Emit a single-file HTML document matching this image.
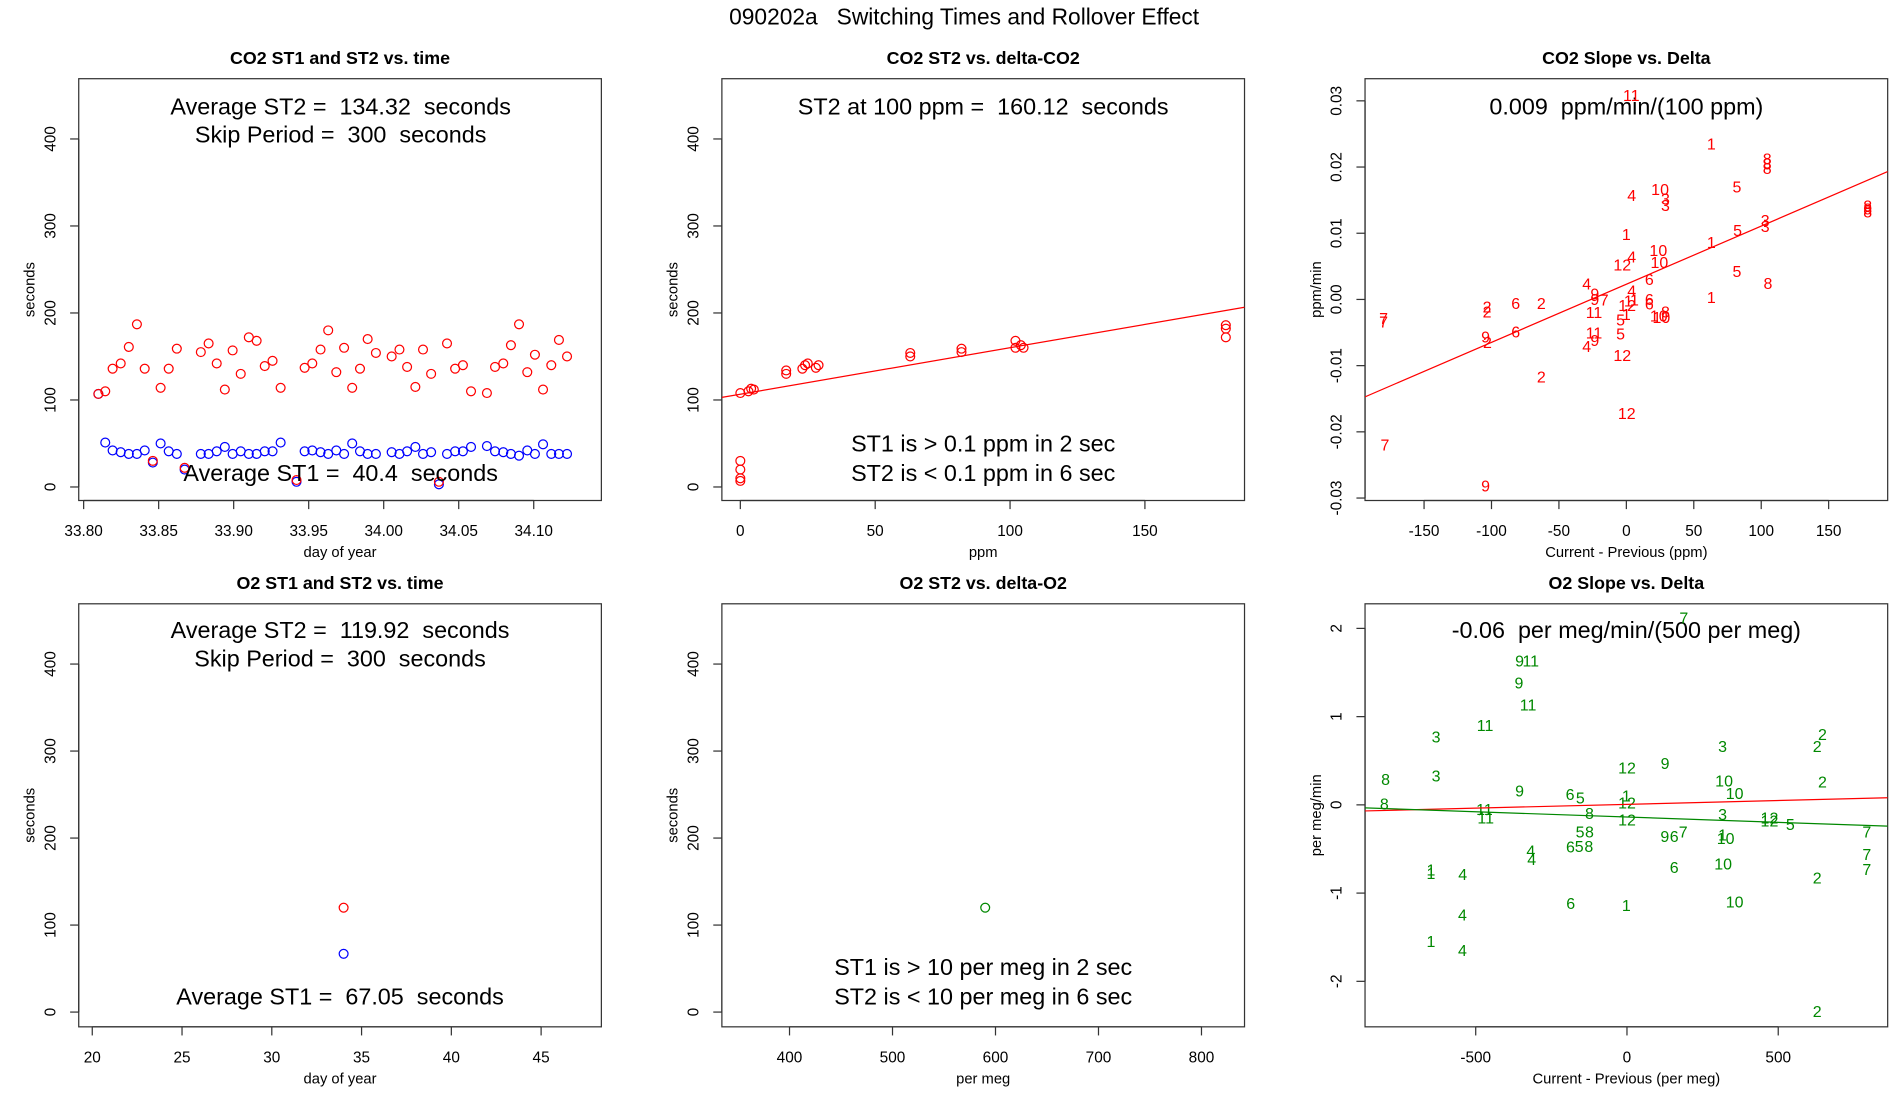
<!DOCTYPE html>
<html><head><meta charset="utf-8"><style>
html,body{margin:0;padding:0;background:#fff;}
svg{display:block;font-family:"Liberation Sans",sans-serif;}
svg text{white-space:pre;}
</style></head><body>
<svg id="fig" width="1900" height="1100" viewBox="0 0 1545 894.5" xmlns="http://www.w3.org/2000/svg" xml:space="preserve">
<rect width="1545" height="894.5" fill="#fff"/>
<text x="784" y="20" font-size="18.5" text-anchor="middle">090202a   Switching Times and Rollover Effect</text>
</svg>
<script>
// ---------- data ----------
const co2Days = [33.8098,33.8144,33.8193,33.8247,33.8301,33.8355,33.8407,33.8461,33.8513,33.8567,33.8621,33.8673,33.8781,33.8833,33.8887,33.8941,33.8993,33.9047,33.9101,33.9153,33.9207,33.9259,33.9313,33.9419,33.9473,33.9524,33.9579,33.9630,33.9684,33.9736,33.9790,33.9842,33.9893,33.9948,34.0053,34.0105,34.0156,34.0211,34.0262,34.0316,34.0368,34.0422,34.0476,34.0528,34.0582,34.0688,34.0742,34.0797,34.0848,34.0902,34.0957,34.1008,34.1062,34.1117,34.1168,34.1222];
const co2ST2 = [107,110,136,142,161,187,136,30,114,136,159,22,155,165,142,112,157,130,172,168,139,145,114,8,137,142,158,180,132,160,114,136,170,154,150,158,138,115,158,130,6,165,136,140,110,108,138,142,163,187,132,152,112,140,169,150];
const co2ST1 = [107,51,42,40,38,38,42,28,50,41,38,20,38,38,41,46,38,41,38,38,41,41,51,6,41,42,40,38,42,38,50,41,38,38,40,38,41,46,38,40,3,38,41,41,46,47,41,40,38,36,42,38,49,38,38,38];
const deltaCO2 = [0,0,0,0,0,3,4,5,17,17,23,24,25,28,29,63,63,82,82,102,102,104,105,180,180,180];
const st2CO2 = [108,30,20,10,7,110,113,112,130,134,136,140,142,137,140,150,154,155,159,160,168,163,160,172,182,186];
const co2FitIntercept = 106.6, co2FitSlope = 0.535;
const slopeX = [3.7,63,104.4,104.4,104.4,82,25,4,29,29,179,179,179,0,103,103,82.5,63,23.7,4,24.5,-3,82,17,105,-29.4,4,63,-23.4,-23.4,-16.4,-82,-63,1.5,6,17,17,0.6,-103.3,-103.3,-24,29,24,26,-180,-180,0,-4.3,-104.4,-103,-82,-24,-23.4,-4.3,-29.4,-3,-63,0.3,-179,-104.4];
const slopeY = [0.0308,0.0235,0.0212,0.0205,0.0198,0.0170,0.0166,0.0157,0.0152,0.0142,0.0141,0.0137,0.0132,0.0098,0.0119,0.0110,0.0104,0.0086,0.0074,0.0064,0.0056,0.0052,0.0042,0.0030,0.0024,0.0023,0.0013,0.0003,0.0008,0,-0.0001,-0.0006,-0.0006,-0.0002,-0.0001,0,-0.0007,-0.0009,-0.0011,-0.0019,-0.0020,-0.0019,-0.0025,-0.0027,-0.0029,-0.0034,-0.0023,-0.0031,-0.0057,-0.0065,-0.0049,-0.0051,-0.0062,-0.0052,-0.0071,-0.0085,-0.0117,-0.0172,-0.0220,-0.0282];
const slopeLab = ["11","1","8","8","8","5","10","4","3","3","8","8","8","1","3","3","5","1","10","4","10","12","5","6","8","4","4","1","9","9","7","6","2","1","1","6","6","12","2","2","11","8","10","10","7","7","1","5","9","2","6","11","9","5","4","12","2","12","7","9"];
const slopeFitIntercept = 0.0023, slopeFitSlope = 0.0000878;
const o2Day = [34], o2ST2 = [120], o2ST1 = [67];
const deltaO2 = [590], st2O2 = [120];
const o2X = [188,-355,-318,-357,-327,-469,-631,316,646,629,0,126,-798,-631,321,646,-355,-188,-154,356,-2,0,-802,-471,-467,-124,0,316,471,471,540,-155,-124,125,156,186,316,326,793,-318,-315,-187,-158,-126,793,318,156,-648,-648,-543,793,629,356,-186,-2,-544,-648,-544,629];
const o2Y = [2.12,1.63,1.63,1.38,1.13,0.90,0.77,0.66,0.80,0.66,0.42,0.47,0.29,0.33,0.27,0.26,0.16,0.12,0.08,0.13,0.10,0.02,0.01,-0.05,-0.15,-0.10,-0.17,-0.11,-0.15,-0.18,-0.22,-0.31,-0.31,-0.36,-0.36,-0.31,-0.34,-0.38,-0.31,-0.52,-0.62,-0.48,-0.47,-0.47,-0.56,-0.67,-0.71,-0.74,-0.78,-0.79,-0.73,-0.83,-1.10,-1.12,-1.14,-1.25,-1.55,-1.65,-2.34];
const o2Lab = ["7","9","11","9","11","11","3","3","2","2","12","9","8","3","10","2","9","6","5","10","1","12","8","11","11","8","12","3","12","12","5","5","8","9","6","7","1","10","7","4","4","6","5","8","7","10","6","1","1","4","7","2","10","6","1","4","1","4","2"];
const o2RedIntercept = 0.006, o2RedSlope = 0.0000864;
const o2GreenIntercept = -0.138, o2GreenSlope = -0.00012;

// ---------- helpers ----------
const NS = "http://www.w3.org/2000/svg";
const fig = document.getElementById('fig');
function mk(tag, attrs, parent, txt){
  const e = document.createElementNS(NS, tag);
  for (const k in attrs) e.setAttribute(k, attrs[k]);
  if (txt !== undefined) e.textContent = txt;
  (parent || fig).appendChild(e);
  return e;
}
function lin(d0,d1,p0,p1){ return v => p0 + (v-d0)*(p1-p0)/(d1-d0); }
function fmt(v,dec){ return v.toFixed(dec); }

function panel(o){
  const g = mk('g', {});
  
  
  const box = mk('rect', {x:o.L, y:o.T, width:o.R-o.L, height:o.B-o.T, fill:'none', stroke:'#333', 'stroke-width':1}, g);
  
  
  const t = mk('text', {x:(o.L+o.R)/2, y:o.T-12, 'font-size':14.5, 'font-weight':'bold', 'text-anchor':'middle'}, g, o.title);
  
  
  const xa = mk('g', {}, g);
  
  
  const xs = o.xticks.map(o.sx);
  mk('line', {x1:xs[0], x2:xs[xs.length-1], y1:o.B, y2:o.B, stroke:'#333'}, xa);
  o.xticks.forEach((v,i)=>{
    mk('line', {x1:xs[i], x2:xs[i], y1:o.B, y2:o.B+7, stroke:'#333'}, xa);
    const tl = mk('text', {x:xs[i], y:o.B+29, 'font-size':12.5, 'text-anchor':'middle'}, xa, fmt(v,o.xdec));
    
    
  });
  const xt = mk('text', {x:(o.L+o.R)/2, y:o.B+46, 'font-size':12, 'text-anchor':'middle'}, g, o.xlab);
  
  
  const ya = mk('g', {}, g);
  
  
  const ys = o.yticks.map(o.sy);
  mk('line', {x1:o.L, x2:o.L, y1:ys[0], y2:ys[ys.length-1], stroke:'#333'}, ya);
  o.yticks.forEach((v,i)=>{
    mk('line', {x1:o.L-7, x2:o.L, y1:ys[i], y2:ys[i], stroke:'#333'}, ya);
    const tl = mk('text', {x:0, y:0, 'font-size':12.5, 'text-anchor':'middle', transform:`translate(${o.L-19},${ys[i]}) rotate(-90)`}, ya, fmt(v,o.ydec));
    
    
  });
  const yt = mk('text', {x:0, y:0, 'font-size':12, 'text-anchor':'middle', transform:`translate(${o.L-36},${(o.T+o.B)/2}) rotate(-90)`}, g, o.ylab);
  
  
  (o.notes||[]).forEach(n=>{
    const a = mk('text', {x:(o.L+o.R)/2, y:n[1]+7, 'font-size':19, 'text-anchor':'middle'}, g, n[0]);
    
    
  });
  return g;
}
function circles(g, xs, ys, sx, sy, col, name){
  xs.forEach((v,i)=>{
    const c = mk('circle', {cx:sx(v), cy:sy(ys[i]), r:3.6, fill:'none', stroke:col, 'stroke-width':1}, g);
    
    
  });
}
function labels(g, xs, ys, labs, sx, sy, col){
  xs.forEach((v,i)=>{
    const t = mk('text', {x:sx(v), y:sy(ys[i])+4.5, 'font-size':13, 'text-anchor':'middle', fill:col}, g, labs[i]);
    
    
  });
}
function fitline(g, L, R, sx, sy, a, b, col, T, B){
  const x0 = (L-sx(0))/(sx(1)-sx(0)), x1 = (R-sx(0))/(sx(1)-sx(0));
  const cp = 'clip'+Math.round(L)+'_'+Math.round(T)+col.replace('#','');
  const cl = mk('clipPath', {id:cp}, g);
  mk('rect', {x:L, y:T, width:R-L, height:B-T}, cl);
  const l = mk('line', {x1:L, x2:R, y1:sy(a+b*x0), y2:sy(a+b*x1), stroke:col, 'stroke-width':1, 'clip-path':`url(#${cp})`}, g);
  
  
}

// ---------- panel 1 ----------
{
  const sx = lin(33.80,34.10,68,434), sy = lin(0,400,396,113);
  const g = panel({name:'co2-st-vs-time-panel', L:64, R:489, T:64, B:407, sx, sy, title:'CO2 ST1 and ST2 vs. time',
    xticks:[33.80,33.85,33.90,33.95,34.00,34.05,34.10], xdec:2, yticks:[0,100,200,300,400], ydec:0,
    xlab:'day of year', ylab:'seconds', notes:[]});
  circles(g, co2Days, co2ST1, sx, sy, '#00f', 'st1-point');
  circles(g, co2Days, co2ST2, sx, sy, '#f00', 'st2-point');
  [['Average ST2 =  134.32  seconds',86],['Skip Period =  300  seconds',109],['Average ST1 =  40.4  seconds',384]].forEach(n=>{
    const a = mk('text', {x:277, y:n[1]+7, 'font-size':19, 'text-anchor':'middle'}, g, n[0]);
    
    
  });
}
// ---------- panel 2 ----------
{
  const sx = lin(0,150,602,931), sy = lin(0,400,396,113);
  const g = panel({name:'co2-st2-vs-delta-panel', L:587, R:1012, T:64, B:407, sx, sy, title:'CO2 ST2 vs. delta-CO2',
    xticks:[0,50,100,150], xdec:0, yticks:[0,100,200,300,400], ydec:0, xlab:'ppm', ylab:'seconds',
    notes:[['ST2 at 100 ppm =  160.12  seconds',86],['ST1 is > 0.1 ppm in 2 sec',360],['ST2 is < 0.1 ppm in 6 sec',384]]});
  circles(g, deltaCO2, st2CO2, sx, sy, '#f00', 'st2-point');
  fitline(g, 587, 1012, sx, sy, co2FitIntercept, co2FitSlope, '#f00', 64, 407);
}
// ---------- panel 3 ----------
{
  const sx = lin(-150,150,1158,1487), sy = lin(-0.03,0.03,405,82);
  const g = panel({name:'co2-slope-vs-delta-panel', L:1110, R:1535, T:64, B:407, sx, sy, title:'CO2 Slope vs. Delta',
    xticks:[-150,-100,-50,0,50,100,150], xdec:0, yticks:[-0.03,-0.02,-0.01,0,0.01,0.02,0.03], ydec:2,
    xlab:'Current - Previous (ppm)', ylab:'ppm/min', notes:[['0.009  ppm/min/(100 ppm)',86]]});
  labels(g, slopeX, slopeY, slopeLab, sx, sy, '#f00');
  fitline(g, 1110, 1535, sx, sy, slopeFitIntercept, slopeFitSlope, '#f00', 64, 407);
}
// ---------- panel 4 ----------
{
  const sx = lin(20,45,75,440), sy = lin(0,400,823,540);
  const g = panel({name:'o2-st-vs-time-panel', L:64, R:489, T:491, B:835, sx, sy, title:'O2 ST1 and ST2 vs. time',
    xticks:[20,25,30,35,40,45], xdec:0, yticks:[0,100,200,300,400], ydec:0, xlab:'day of year', ylab:'seconds',
    notes:[['Average ST2 =  119.92  seconds',512],['Skip Period =  300  seconds',535],['Average ST1 =  67.05  seconds',810]]});
  circles(g, o2Day, o2ST1, sx, sy, '#00f', 'st1-point');
  circles(g, o2Day, o2ST2, sx, sy, '#f00', 'st2-point');
}
// ---------- panel 5 ----------
{
  const sx = lin(400,800,642,977), sy = lin(0,400,823,540);
  const g = panel({name:'o2-st2-vs-delta-panel', L:587, R:1012, T:491, B:835, sx, sy, title:'O2 ST2 vs. delta-O2',
    xticks:[400,500,600,700,800], xdec:0, yticks:[0,100,200,300,400], ydec:0, xlab:'per meg', ylab:'seconds',
    notes:[['ST1 is > 10 per meg in 2 sec',786],['ST2 is < 10 per meg in 6 sec',810]]});
  circles(g, deltaO2, st2O2, sx, sy, '#080', 'st2-point');
}
// ---------- panel 6 ----------
{
  const sx = lin(-500,500,1200,1446), sy = lin(-2,2,798,511);
  const g = panel({name:'o2-slope-vs-delta-panel', L:1110, R:1535, T:491, B:835, sx, sy, title:'O2 Slope vs. Delta',
    xticks:[-500,0,500], xdec:0, yticks:[-2,-1,0,1,2], ydec:0,
    xlab:'Current - Previous (per meg)', ylab:'per meg/min', notes:[['-0.06  per meg/min/(500 per meg)',512]]});
  labels(g, o2X, o2Y, o2Lab, sx, sy, '#080');
  fitline(g, 1110, 1535, sx, sy, o2RedIntercept, o2RedSlope, '#f00', 491, 835);
  fitline(g, 1110, 1535, sx, sy, o2GreenIntercept, o2GreenSlope, '#080', 491, 835);
}
</script>
</body></html>
